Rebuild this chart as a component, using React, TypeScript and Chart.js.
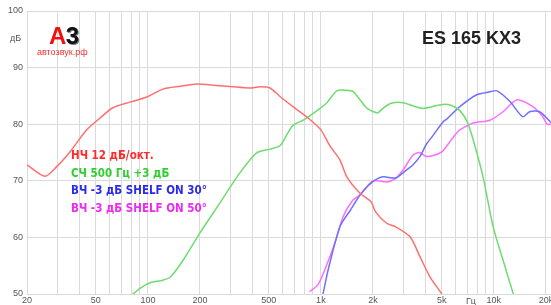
import React, { useEffect, useRef } from "react";
import { Chart, registerables } from "chart.js";

Chart.register(...registerables);

const W = 551;
const H = 305;

// Axis ticks
const xGridValues = [
  20, 30, 40, 50, 60, 70, 80, 90,
  100, 200, 300, 400, 500, 600, 700, 800, 900,
  1000, 2000, 3000, 4000, 5000, 6000, 7000, 8000, 9000,
  10000, 20000,
];
const xLabelValues = [20, 50, 100, 200, 500, 1000, 2000, 5000, 10000, 20000];
const xLabelTexts = ["20", "50", "100", "200", "500", "1k", "2k", "5k", "10k", "20k"];
const yTickValues = [50, 60, 70, 80, 90, 100];

// Series labels and colours
const seriesLabels = [
  "НЧ 12 дБ/окт.",
  "СЧ 500 Гц +3 дБ",
  "ВЧ -3 дБ SHELF ON 30°",
  "ВЧ -3 дБ SHELF ON 50°",
];
const lineColors = ["#ff6f6f", "#6fdc6f", "#7070ff", "#ff6fff"];
const legendColors = ["#ff2a2a", "#2fcf2f", "#2a2aee", "#ee2aee"];

// НЧ (woofer)
const lfFreq = [20, 25.4, 29.7, 35.4, 44.3, 52.9, 62.8, 78.8, 98.8, 122, 154, 192, 238, 310, 388, 444, 508, 580, 690, 828, 1000, 1126, 1288, 1412, 1684, 1950, 2070, 2400, 2700, 3280, 3740, 4280, 5000, 5300];
const lfDb = [72.8, 70.8, 72.5, 75.1, 79.0, 81.1, 82.9, 83.9, 84.8, 86.2, 86.7, 87.1, 86.9, 86.6, 86.4, 86.6, 86.4, 84.9, 83.1, 81.3, 79.0, 76.2, 73.7, 70.7, 67.8, 66.3, 64.5, 62.5, 61.9, 60.1, 56.6, 53.0, 50.0, 48.5];

// СЧ (midrange)
const mfFreq = [80, 90, 103, 120, 135, 160, 200, 261, 340, 424, 508, 580, 640, 690, 800, 950, 1084, 1236, 1400, 1532, 1684, 1832, 1950, 2130, 2300, 2550, 2980, 3850, 4400, 5080, 5700, 6360, 7000, 7600, 8660, 9900, 11300, 12900, 13500];
const mfDb = [49.7, 51.0, 52.0, 52.4, 53.0, 56.0, 60.8, 66.1, 71.4, 74.9, 75.6, 76.2, 78.3, 79.8, 80.8, 82.4, 83.8, 85.9, 86.0, 85.8, 84.3, 82.9, 82.4, 82.0, 82.9, 83.7, 83.8, 82.8, 83.1, 83.5, 83.3, 82.4, 80.5, 77.2, 70.7, 61.9, 56.0, 50.2, 48.5];

// ВЧ 30°
const hf30Freq = [1000, 1030, 1100, 1288, 1480, 1684, 1950, 2280, 2700, 3120, 3400, 3740, 4080, 4400, 5080, 5340, 6360, 7960, 9400, 10440, 12400, 14700, 16100, 18400, 21400];
const hf30Db = [49.0, 50.1, 54.2, 61.9, 64.8, 67.5, 69.6, 70.7, 70.5, 71.9, 72.8, 74.3, 76.5, 77.8, 80.4, 80.9, 83.1, 85.2, 85.7, 85.9, 84.0, 81.3, 82.2, 82.2, 80.3];

// ВЧ 50°
const hf50Freq = [860, 960, 1070, 1220, 1346, 1532, 1684, 2000, 2400, 2700, 3000, 3400, 3700, 4080, 4500, 5000, 5600, 6080, 6360, 7600, 9500, 11300, 13600, 16800, 19200, 20300, 21400];
const hf50Db = [50.4, 51.6, 54.8, 59.5, 63.7, 66.6, 67.5, 70.0, 69.8, 70.4, 72.0, 74.5, 75.0, 74.3, 74.5, 75.1, 77.0, 78.4, 79.0, 80.2, 80.7, 82.2, 84.3, 83.1, 81.3, 80.0, 80.0];

const seriesFreqs = [lfFreq, mfFreq, hf30Freq, hf50Freq];
const seriesDbs = [lfDb, mfDb, hf30Db, hf50Db];

const tickFont = { family: "'Liberation Sans', 'DejaVu Sans', sans-serif", size: 9 };
const tickColor = "#555";
const gridColor = "#dadada";

function ChartCanvas() {
  const ref = useRef<HTMLCanvasElement | null>(null);

  useEffect(() => {
    const canvas = ref.current;
    if (!canvas) return;
    const datasets = seriesLabels.map((label, i) => ({
      label,
      data: seriesFreqs[i].map((f, j) => ({ x: f, y: seriesDbs[i][j] })),
      borderColor: lineColors[i],
      backgroundColor: lineColors[i],
      borderWidth: 1.5,
      pointRadius: 0,
      tension: 0.25,
      fill: false,
    }));

    const chart = new Chart(canvas, {
      type: "line",
      data: { datasets },
      options: {
        responsive: false,
        animation: false,
        events: [],
        layout: { padding: { top: 11, right: 0, bottom: 0, left: 0 } },
        plugins: {
          legend: { display: false },
          tooltip: { enabled: false },
        },
        scales: {
          x: {
            type: "logarithmic",
            min: 20,
            max: 21400,
            afterBuildTicks: (s: any) => {
              s.ticks = xGridValues.map((v) => ({ value: v }));
            },
            afterFit: (s: any) => {
              s.height = 11;
              s.paddingLeft = 0;
              s.paddingRight = 0;
            },
            ticks: {
              autoSkip: false,
              maxRotation: 0,
              minRotation: 0,
              padding: 1,
              font: tickFont,
              color: tickColor,
              callback: (v: any) => {
                const k = xLabelValues.indexOf(Number(v));
                return k >= 0 ? xLabelTexts[k] : "";
              },
            },
            grid: { color: gridColor, lineWidth: 1, drawTicks: false },
            border: { display: false },
          },
          y: {
            type: "linear",
            min: 50,
            max: 100,
            afterBuildTicks: (s: any) => {
              s.ticks = yTickValues.map((v) => ({ value: v }));
            },
            afterFit: (s: any) => {
              s.width = 27;
              s.paddingTop = 0;
              s.paddingBottom = 0;
            },
            ticks: {
              padding: 4,
              font: tickFont,
              color: tickColor,
            },
            grid: { color: gridColor, lineWidth: 1, drawTicks: false },
            border: { display: false },
          },
        },
      },
    });
    return () => chart.destroy();
  }, []);

  return <canvas ref={ref} width={W} height={H} style={{ position: "absolute", left: 0, top: 0, width: W, height: H }} />;
}

export default function App() {
  const legendFont = "'DejaVu Sans Condensed', 'DejaVu Sans', sans-serif";
  return (
    <div style={{ position: "fixed", left: 0, top: 0, width: W, height: H, background: "#fff", overflow: "hidden" }}>
      <ChartCanvas />
      {/* logo */}
      <div style={{ position: "absolute", left: 49, top: 22, font: "bold 24px 'Liberation Sans', sans-serif", lineHeight: "28px", letterSpacing: "-0.5px" }}>
        <span style={{ color: "#ee1111" }}>А</span>
        <span style={{ color: "#111", textShadow: "1px 1px 0 #777" }}>3</span>
      </div>
      <div style={{ position: "absolute", left: 37, top: 46, font: "9px 'Liberation Sans', sans-serif", color: "#ee3333", lineHeight: "12px" }}>
        автозвук.рф
      </div>
      {/* title */}
      <div style={{ position: "absolute", left: 422, top: 27, font: "bold 18px 'Liberation Sans', sans-serif", color: "#222", lineHeight: "22px" }}>
        ES 165 KX3
      </div>
      {/* axis units */}
      <div style={{ position: "absolute", left: 10, top: 32, font: "9px 'Liberation Sans', sans-serif", color: tickColor, lineHeight: "12px" }}>
        дБ
      </div>
      <div style={{ position: "absolute", left: 466, top: 295, font: "9px 'Liberation Sans', sans-serif", color: tickColor, lineHeight: "12px" }}>
        Гц
      </div>
      {/* legend */}
      <div style={{ position: "absolute", left: 71, top: 147 }}>
        {seriesLabels.map((t, i) => (
          <div key={i} style={{ font: `bold 11.5px ${legendFont}`, color: legendColors[i], lineHeight: "17.5px", whiteSpace: "nowrap" }}>
            {t}
          </div>
        ))}
      </div>
    </div>
  );
}
